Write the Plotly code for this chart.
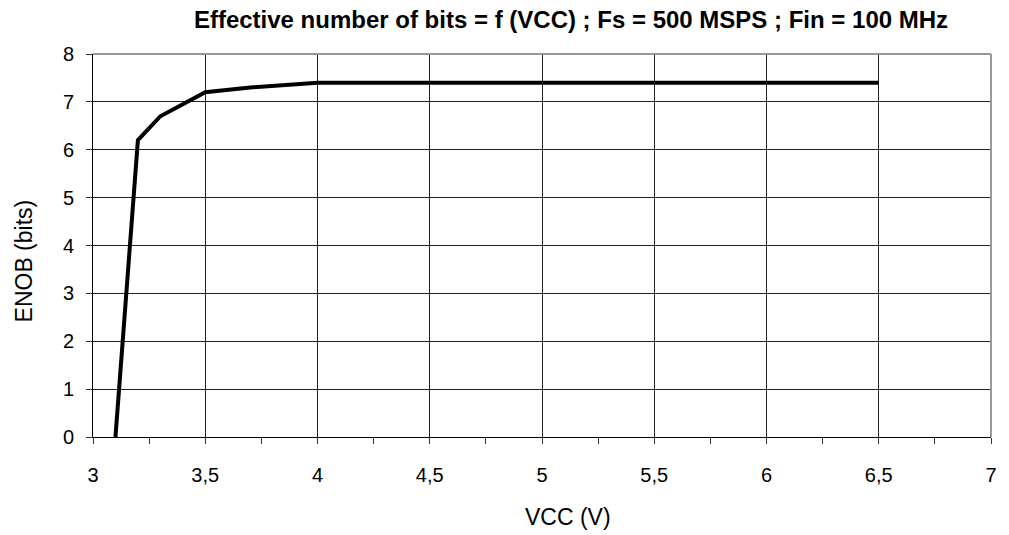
import plotly.graph_objects as go

vcc = [3.1, 3.2, 3.3, 3.5, 3.7, 4.0, 4.5, 5.0, 5.5, 6.0, 6.5]
enob = [0.0, 6.2, 6.7, 7.2, 7.3, 7.4, 7.4, 7.4, 7.4, 7.4, 7.4]

title_text = "Effective number of bits = f (VCC) ; Fs = 500 MSPS ; Fin = 100 MHz"
x_title = "VCC (V)"
y_title = "ENOB (bits)"

FAM = "Liberation Sans, Arial, sans-serif"

fig = go.Figure()
fig.add_trace(go.Scatter(x=vcc, y=enob, mode="lines",
                         line=dict(color="black", width=4), showlegend=False))

fig.update_layout(
    width=1009, height=535,
    margin=dict(l=93, r=12, t=54, b=98),
    paper_bgcolor="white", plot_bgcolor="white",
    separators=", ",
    font=dict(family=FAM, size=20, color="black"),
    title=dict(text="<b>" + title_text + "</b>", xref="container", x=571 / 1009,
               xanchor="center", yref="container", y=1 - 20 / 535, yanchor="middle",
               font=dict(family=FAM, size=24, color="black")),
    xaxis=dict(range=[3, 7], dtick=0.5, tick0=3, showgrid=True, gridcolor="#222",
               gridwidth=1, ticks="outside", ticklen=6, tickcolor="#333",
               showline=True, linecolor="black", linewidth=1, zeroline=False,
               tickfont=dict(size=20),
               minor=dict(dtick=0.25, ticks="outside", ticklen=6, tickcolor="#333", showgrid=False),
               ticklabelstandoff=14),
    yaxis=dict(range=[0, 8], dtick=1, showgrid=True, gridcolor="#222", gridwidth=1,
               ticks="outside", ticklen=6, tickcolor="#333",
               showline=True, linecolor="black", linewidth=1, zeroline=False,
               tickfont=dict(size=20), ticklabelstandoff=8),
    shapes=[
        dict(type="line", xref="paper", yref="paper", x0=0, x1=1, y0=1, y1=1,
             line=dict(color="#999", width=2)),
        dict(type="line", xref="paper", yref="paper", x0=1, x1=1, y0=0, y1=1,
             line=dict(color="#999", width=2)),
    ],
    annotations=[
        dict(text=x_title, xref="paper", yref="paper", x=(571 - 93) / 904,
             y=(437 - 517) / 383, xanchor="center", yanchor="middle",
             showarrow=False, font=dict(family=FAM, size=23, color="black")),
        dict(text=y_title, xref="paper", yref="paper", x=(24 - 93) / 904,
             y=(437 - 261) / 383, xanchor="center", yanchor="middle", textangle=-90,
             showarrow=False, font=dict(family=FAM, size=23, color="black")),
    ],
)

fig.write_html("out.html", config={"displayModeBar": False},
               post_script="document.body.style.margin='0';")
